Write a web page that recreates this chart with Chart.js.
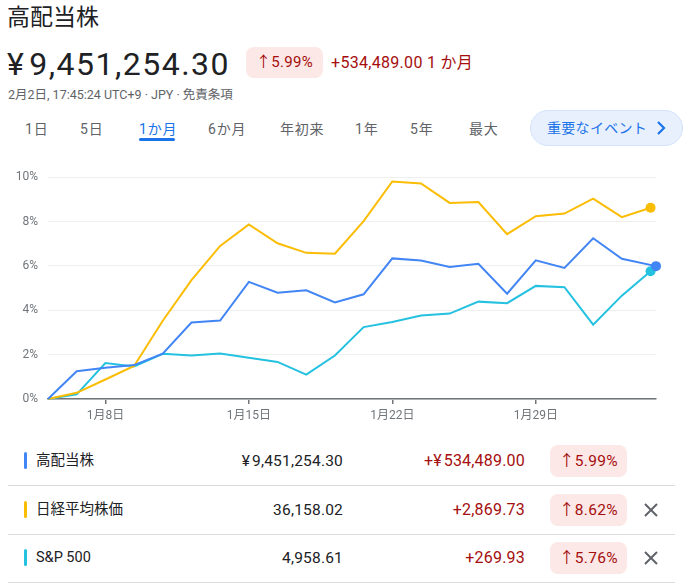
<!DOCTYPE html>
<html lang="ja">
<head>
<meta charset="utf-8">
<script src="https://cdn.jsdelivr.net/npm/chart.js@4/dist/chart.umd.min.js"></script>
<style>
  html, body { margin:0; padding:0; background:#fff; }
  body { width:688px; height:588px; position:relative; overflow:hidden;
         font-family: Roboto, "Noto Sans CJK JP", "Noto Sans", sans-serif; color:#202124; }
  .abs { position:absolute; white-space:nowrap; }
  .yen { margin-right:0.12em; }
  #title { left:7px; top:2px; font-size:23px; line-height:32px; }
  #price { left:7px; top:45px; font-size:32px; line-height:38px; letter-spacing:1.5px; }
  #badge { left:246px; top:47px; width:77px; height:31px; border-radius:8px; background:#fce8e6;
           color:#a50e0e; font-size:15px; line-height:31px; text-align:center; letter-spacing:0.3px; }
  #delta { left:331px; top:47px; font-size:16px; line-height:31px; color:#a50e0e; letter-spacing:0.3px; }
  #sub { left:8px; top:87px; font-size:12.5px; line-height:16px; color:#5f6368; }
  .tab { top:119px; font-size:14px; line-height:20px; color:#5f6368; letter-spacing:0.8px; }
  .tab.active { color:#1a73e8; }
  #underline { left:139px; top:138px; width:36px; height:3px; border-radius:2px; background:#1a73e8; }
  #btn { left:530px; top:110px; width:151px; height:34px; border-radius:18px; background:#e8f0fe;
         border:1px solid #d2e3fc; color:#1a73e8; font-size:14px; line-height:34px; }
  #btn span.t { position:absolute; left:16px; letter-spacing:0.3px; }
  #btn svg { position:absolute; left:125px; top:10px; }
  #chartwrap { left:0; top:160px; width:688px; height:270px; }
  .row { left:0; width:688px; height:48px; }
  .bar { position:absolute; left:24px; top:15px; width:3px; height:17px; border-radius:2px; }
  .name { position:absolute; left:36px; top:0; font-size:14.5px; line-height:48px; }
  .val { position:absolute; right:345px; top:0; font-size:15.5px; line-height:48px; color:#202124; letter-spacing:0.2px; }
  .chg { position:absolute; right:163px; top:0; font-size:16px; line-height:48px; color:#a50e0e; letter-spacing:0.2px; }
  .pill { position:absolute; left:550px; top:8px; width:77px; height:32px; border-radius:8px; background:#fce8e6;
          color:#a50e0e; font-size:15.5px; line-height:32px; text-align:center; letter-spacing:0.3px; }
  .x { position:absolute; left:643px; top:16px; }
  .div { left:8px; width:667px; height:1px; background:#dadce0; }
</style>
</head>
<body>
<div id="title" class="abs">高配当株</div>
<div id="price" class="abs"><span class="yen">¥</span>9,451,254.30</div>
<div id="badge" class="abs">↑5.99%</div>
<div id="delta" class="abs">+534,489.00 1 か月</div>
<div id="sub" class="abs">2月2日, 17:45:24 UTC+9 · JPY · 免責条項</div>
<div id="tabs"></div>
<div id="underline" class="abs"></div>
<div id="btn" class="abs"><span class="t">重要なイベント</span>
  <svg width="10" height="14" viewBox="0 0 10 14"><path d="M2 1 L8 7 L2 13" fill="none" stroke="#1a73e8" stroke-width="2.2"/></svg>
</div>
<div id="chartwrap" class="abs"><canvas id="c" width="688" height="270"></canvas></div>
<div id="legend"></div>

<script>
// ---- data ----
const dates = ['1月4日','1月5日','1月8日','1月9日','1月10日','1月11日','1月12日',
  '1月15日','1月16日','1月17日','1月18日','1月19日',
  '1月22日','1月23日','1月24日','1月25日','1月26日',
  '1月29日','1月30日','1月31日','2月1日','2月2日'];
const dividendPct = [0,1.25,1.41,1.53,2.04,3.45,3.54,5.28,4.79,4.90,4.35,4.72,6.34,6.24,5.95,6.10,4.75,6.25,5.91,7.25,6.32,5.99];
const nikkeiPct   = [0,0.28,0.88,1.49,3.53,5.36,6.90,7.87,7.02,6.59,6.55,8.02,9.81,9.72,8.84,8.88,7.43,8.24,8.36,9.03,8.20,8.62];
const spPct       = [0,0.21,1.62,1.47,2.04,1.96,2.05,1.86,1.67,1.10,1.96,3.24,3.47,3.76,3.85,4.39,4.32,5.10,5.04,3.35,4.66,5.76];
// last quote of the portfolio is intraday (17:45) on the final day
const dividendLastTimeOffset = 0.19;
const xTickLabels = ['1月8日','1月15日','1月22日','1月29日'];
const yMin = 0, yMax = 10, yStep = 2;

const seriesNames  = ['高配当株','日経平均株価','S&P 500'];
const seriesColors = ['#4285f4','#fbbc04','#24c1e0'];
const seriesValues = ['¥9,451,254.30','36,158.02','4,958.61'];
const seriesChanges = ['+¥534,489.00','+2,869.73','+269.93'];
const seriesChangePct = ['5.99%','8.62%','5.76%'];
const seriesRemovable = [false,true,true];

const tabLabels = ['1日','5日','1か月','6か月','年初来','1年','5年','最大'];

const yenWrap = s => s.replace('¥', '<span class="yen">¥</span>');

// ---- header tabs ----
const tabLefts = [25,80,139,208,280,355,410,469];
const tabsEl = document.getElementById('tabs');
tabLabels.forEach((t,i)=>{
  const d = document.createElement('div');
  d.className = 'abs tab' + (t==='1か月' ? ' active' : '');
  d.style.left = tabLefts[i] + 'px';
  d.textContent = t;
  tabsEl.appendChild(d);
});

// ---- legend table ----
const legendEl = document.getElementById('legend');
const rowTops = [437,486,534];
seriesNames.forEach((n,i)=>{
  const r = document.createElement('div');
  r.className = 'abs row';
  r.style.top = rowTops[i] + 'px';
  r.innerHTML = `<div class="bar" style="background:${seriesColors[i]}"></div>
    <div class="name">${n}</div>
    <div class="val">${yenWrap(seriesValues[i])}</div>
    <div class="chg">${yenWrap(seriesChanges[i])}</div>
    <div class="pill">↑${seriesChangePct[i]}</div>` +
    (seriesRemovable[i] ? `<svg class="x" width="16" height="16" viewBox="0 0 16 16"><path d="M2 2 L14 14 M14 2 L2 14" stroke="#5f6368" stroke-width="2"/></svg>` : '');
  legendEl.appendChild(r);
  const dv = document.createElement('div');
  dv.className = 'abs div';
  dv.style.top = (rowTops[i] + 48) + 'px';
  legendEl.appendChild(dv);
});

// ---- chart ----
const lastIdx = dates.length - 1;
const toPoints = (arr, lastOffset) => arr.map((v,i)=>({x: i === lastIdx ? i + (lastOffset||0) : i, y: v}));
const xMax = lastIdx + dividendLastTimeOffset;
const tickIdx = xTickLabels.map(l => dates.indexOf(l));

const mkDs = (label, arr, color, off) => ({
  label, data: toPoints(arr, off), borderColor: color, backgroundColor: color,
  borderWidth: 2, tension: 0, clip: false,
  pointRadius: ctx => ctx.dataIndex === arr.length - 1 ? 5 : 0,
  pointBorderWidth: 0, pointHoverRadius: 0
});

const chartFont = { family: 'Roboto, "Noto Sans CJK JP", sans-serif', size: 12 };

new Chart(document.getElementById('c'), {
  type: 'line',
  data: {
    datasets: [
      mkDs(seriesNames[0], dividendPct, seriesColors[0], dividendLastTimeOffset),
      mkDs(seriesNames[1], nikkeiPct, seriesColors[1], 0),
      mkDs(seriesNames[2], spPct, seriesColors[2], 0)
    ]
  },
  options: {
    responsive: false, animation: false, devicePixelRatio: 1,
    layout: { padding: { left: 0, right: 32, top: 15, bottom: 0 } },
    plugins: { legend: { display: false }, tooltip: { enabled: false } },
    events: [],
    scales: {
      x: {
        type: 'linear', min: 0, max: xMax,
        afterBuildTicks: s => { s.ticks = tickIdx.map(v => ({ value: v })); },
        afterFit: s => { s.height = 31; },
        ticks: { autoSkip: false, maxRotation: 0, padding: 5, color: '#70757a', font: chartFont,
                 callback: v => dates[v] },
        grid: { display: true, drawOnChartArea: false, drawTicks: true, tickLength: 5,
                color: '#70757a', lineWidth: 1.5 },
        border: { display: true, color: '#70757a', width: 1.5 }
      },
      y: {
        min: yMin, max: yMax,
        afterFit: s => { s.width = 48; },
        ticks: { stepSize: yStep, padding: 10, color: '#70757a', font: chartFont,
                 callback: v => v + '%' },
        grid: { color: '#efefef', lineWidth: 1, drawTicks: false },
        border: { display: false }
      }
    }
  }
});
</script>
</body>
</html>
